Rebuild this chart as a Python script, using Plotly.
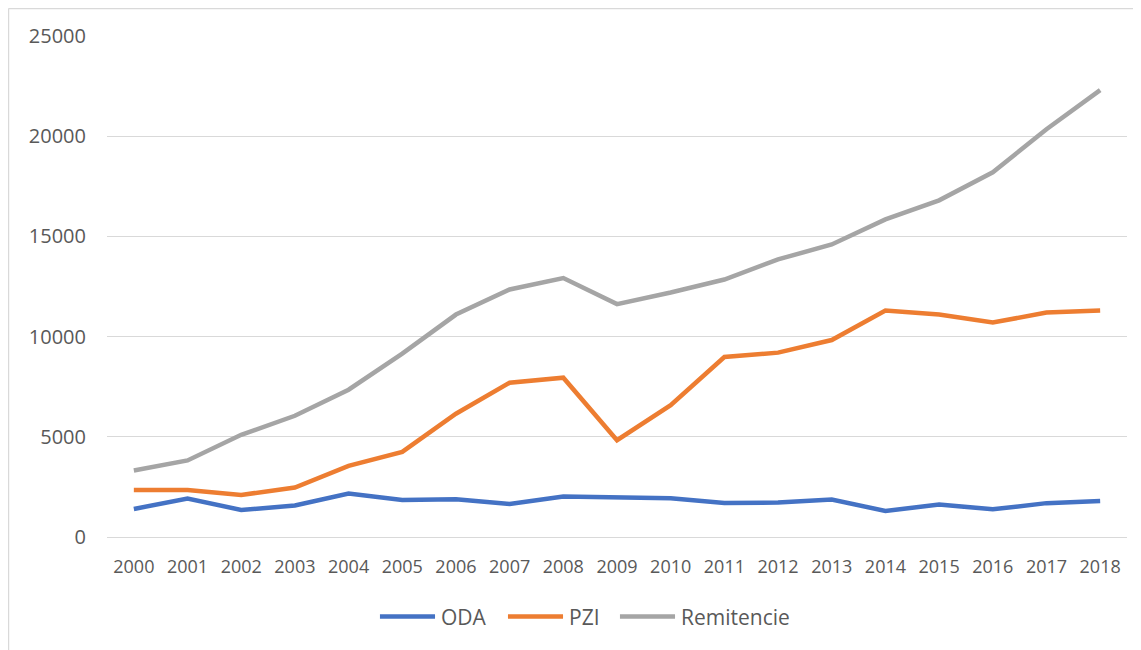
import plotly.graph_objects as go

years = [str(y) for y in range(2000, 2019)]
oda = [1400, 1920, 1350, 1570, 2170, 1850, 1880, 1650, 2020, 1950,
       1930, 1700, 1720, 1870, 1300, 1620, 1380, 1690, 1800]
pzi = [2350, 2350, 2100, 2470, 3550, 4250, 6150, 7700, 7950, 4830,
       6580, 8980, 9200, 9830, 11300, 11100, 10700, 11200, 11300]
remitencie = [3320, 3820, 5100, 6050, 7350, 9150, 11100, 12350, 12920, 11620,
              12200, 12850, 13850, 14600, 15850, 16800, 18200, 20350, 22300]

series = [("ODA", oda, "#4472C4"), ("PZI", pzi, "#ED7D31"), ("Remitencie", remitencie, "#A5A5A5")]

fig = go.Figure()
for name, vals, col in series:
    fig.add_trace(go.Scatter(x=years, y=vals, name=name, mode="lines",
                             line=dict(color=col, width=4.5), showlegend=False))

# hand-made legend (Excel style, long swatches); x positions in paper units
legend_x = [0.2676, 0.3931, 0.5029]
swatch = 0.054
leg_y = -0.1587
shapes = []
annots = []
for (name, vals, col), x0 in zip(series, legend_x):
    shapes.append(dict(type="line", xref="paper", yref="paper", x0=x0, x1=x0 + swatch,
                       y0=leg_y, y1=leg_y, line=dict(color=col, width=4.5)))
    annots.append(dict(text=name, xref="paper", yref="paper", x=x0 + swatch + 0.004, y=leg_y,
                       xanchor="left", yanchor="middle", showarrow=False,
                       font=dict(family="Open Sans", size=21, color="#595959")))

# chart border (top and left edges visible)
shapes += [dict(type="line", xref="paper", yref="paper", x0=-0.0966, x1=1.1, y0=1.055, y1=1.055,
                line=dict(color="#D9D9D9", width=1.5)),
           dict(type="line", xref="paper", yref="paper", x0=-0.0966, x1=-0.0966, y0=1.055, y1=-0.3,
                line=dict(color="#D9D9D9", width=1.5))]

# page body has an 8px margin, so the figure is made 8px smaller and margins shifted
xfont = dict(family="Open Sans", size=18, color="#595959")
yfont = dict(family="Open Sans", size=20, color="#595959")
fig.update_layout(
    width=1133, height=642,
    margin=dict(l=99, r=14, t=28, b=113),
    paper_bgcolor="white", plot_bgcolor="white",
    font=xfont,
    xaxis=dict(type="category", showgrid=False, ticks="", showline=False,
               range=[-0.5, 18.5], tickfont=xfont, ticklabelstandoff=17),
    yaxis=dict(range=[0, 25000], dtick=5000, tickformat="d", showgrid=True,
               gridcolor="#D9D9D9", gridwidth=1.3, zeroline=True,
               zerolinecolor="#D9D9D9", zerolinewidth=1.3,
               ticks="", ticklabelstandoff=20, tickfont=yfont),
    shapes=shapes,
    annotations=annots,
)

fig.write_html("out.html")
